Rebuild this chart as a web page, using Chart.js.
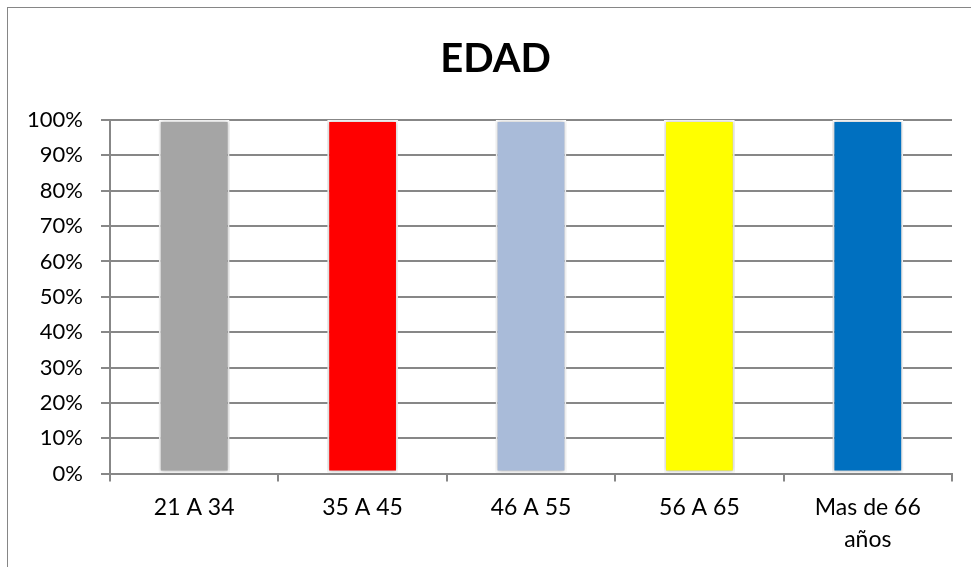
<!DOCTYPE html>
<html lang="es">
<head>
<meta charset="UTF-8">
<title>EDAD</title>
<script src="https://cdn.jsdelivr.net/npm/chart.js"></script>
<style>
  html, body { margin: 0; padding: 0; background: #fff; overflow: hidden; }
  #marco {
    position: absolute; left: 7px; top: 7px;
    width: 1000px; height: 600px;
    border: 1px solid #868686;
  }
  #wrap { position: absolute; left: 0; top: 0; width: 975px; height: 580px; }
</style>
</head>
<body>
<div id="marco">
  <div id="wrap"><canvas id="edadChart"></canvas></div>
</div>
<script>
const categorias = ['21 A 34', '35 A 45', '46 A 55', '56 A 65', ['Mas de 66', 'años']];
const porcentajes = [100, 100, 100, 100, 100];
const colores = ['#A5A5A5', '#FF0000', '#A9BBD9', '#FFFF00', '#0070C0'];
const marcasY = [0, 10, 20, 30, 40, 50, 60, 70, 80, 90, 100];

const gris = '#878787';
const fuente = 'Lato, "Open Sans", sans-serif';

// sombra suave alrededor de cada barra
const sombraBarras = {
  id: 'sombraBarras',
  beforeDatasetsDraw(chart) {
    const ctx = chart.ctx;
    ctx.save();
    ctx.shadowColor = 'rgba(0,0,0,0.3)';
    ctx.shadowBlur = 4;
  },
  afterDatasetsDraw(chart) {
    chart.ctx.restore();
  }
};

new Chart(document.getElementById('edadChart'), {
  type: 'bar',
  data: {
    labels: categorias,
    datasets: [{
      data: porcentajes,
      backgroundColor: colores,
      borderColor: '#FFFFFF',
      borderWidth: 2,
      borderSkipped: false,
      barPercentage: 0.42,
      categoryPercentage: 1
    }]
  },
  options: {
    responsive: true,
    maintainAspectRatio: false,
    animation: false,
    layout: { padding: { left: 0, right: 0, top: 0, bottom: 22 } },
    plugins: {
      legend: { display: false },
      tooltip: { enabled: false },
      title: {
        display: true,
        text: 'EDAD',
        color: '#000',
        font: { family: fuente, size: 40, weight: 'bold', lineHeight: 1.2 },
        padding: { top: 27, bottom: 37 }
      }
    },
    scales: {
      x: {
        offset: true,
        grid: { offset: true, drawOnChartArea: false, color: gris, tickLength: 8, lineWidth: 2 },
        border: { color: gris, width: 2 },
        ticks: { color: '#000', font: { family: fuente, size: 23, lineHeight: 1.4 }, padding: 10, maxRotation: 0 }
      },
      y: {
        min: 0,
        max: 100,
        afterFit(scale) { scale.width = 102; },
        afterBuildTicks(scale) { scale.ticks = marcasY.map(v => ({ value: v })); },
        grid: { color: gris, tickLength: 9, lineWidth: 2 },
        border: { color: gris, width: 2 },
        ticks: {
          color: '#000',
          font: { family: fuente, size: 22 },
          padding: 18,
          callback: v => v + '%'
        }
      },
      // eje vacío a la derecha: sólo reserva el margen
      margenDer: {
        axis: 'y',
        position: 'right',
        min: 0,
        max: 100,
        afterFit(scale) { scale.width = 31; },
        grid: { drawOnChartArea: false, drawTicks: false },
        border: { display: false },
        ticks: { display: false }
      }
    }
  },
  plugins: [sombraBarras]
});
</script>
</body>
</html>
